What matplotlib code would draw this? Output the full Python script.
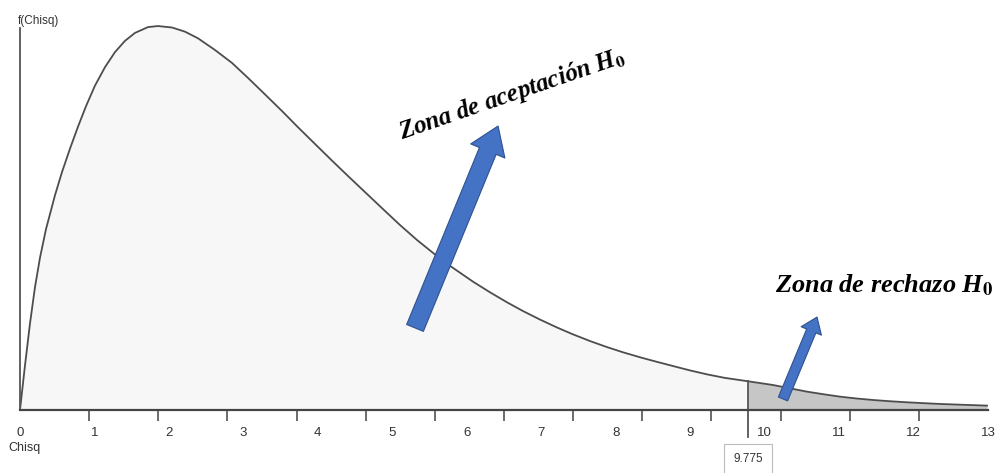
import matplotlib
matplotlib.use("Agg")
from matplotlib import pyplot as plt
import numpy as np

# valores (chi-cuadrado)
chisq = [0.0, 0.067, 0.134, 0.201, 0.269, 0.349, 0.470, 0.564, 0.672, 0.779,
         0.886, 1.007, 1.142, 1.276, 1.410, 1.544, 1.719, 1.853, 2.041, 2.216,
         2.391, 2.619, 2.847, 3.062, 3.290, 3.519, 3.734, 3.962, 4.190, 4.432,
         4.660, 4.888, 5.103, 5.332, 5.547, 5.775, 6.084, 6.312, 6.540, 6.755,
         6.984, 7.212, 7.427, 7.655, 7.883, 8.098, 8.327, 8.555, 8.770, 8.998,
         9.227, 9.468, 9.775, 10.113, 10.341, 10.570, 10.784, 11.013, 11.241, 11.456,
         11.684, 11.912, 12.127, 12.356, 12.664, 12.987]
dens = [0.0, 0.0214, 0.0415, 0.0589, 0.0732, 0.0868, 0.1031, 0.1142, 0.1255, 0.1360,
        0.1458, 0.1557, 0.1646, 0.1718, 0.1772, 0.1810, 0.1838, 0.1843, 0.1836, 0.1816,
        0.1784, 0.1728, 0.1666, 0.1594, 0.1515, 0.1435, 0.1357, 0.1277, 0.1197, 0.1114,
        0.1037, 0.0960, 0.0888, 0.0816, 0.0754, 0.0692, 0.0616, 0.0565, 0.0517, 0.0475,
        0.0434, 0.0396, 0.0363, 0.0331, 0.0302, 0.0277, 0.0253, 0.0231, 0.0211, 0.0190,
        0.0171, 0.0154, 0.0138, 0.0120, 0.0104, 0.0088, 0.0076, 0.0064, 0.0055, 0.0048,
        0.0042, 0.0037, 0.0033, 0.0029, 0.0025, 0.0021]
critico = 9.775
etiquetas_x = list(range(0, 14))

x = np.array(chisq)
y = np.array(dens)

plt.rcParams['font.family'] = ['Liberation Sans', 'DejaVu Sans']
plt.rcParams['mathtext.fontset'] = 'stix'

fig = plt.figure(figsize=(9.96, 4.73), dpi=100)
ax = fig.add_axes([20/996, 63/473, 968/996, 385/473])
ax.set_xlim(0, 13)
ax.set_ylim(0, 385*0.00048)

acep = x <= critico
rech = x >= critico
ax.fill_between(x[acep], 0, y[acep], color='#f7f7f7', lw=0)
ax.fill_between(x[rech], 0, y[rech], color='#c6c6c6', lw=0)
ax.plot(x, y, color='#4d4d4d', lw=1.3, solid_joinstyle='round')
ax.plot([critico, critico], [y[chisq.index(critico)], -0.013], color='#555555', lw=1.3, clip_on=False)

for s in ['top', 'right']:
    ax.spines[s].set_visible(False)
ax.spines['left'].set_bounds(0, 382*0.00048)
ax.spines['left'].set_color('#555555')
ax.spines['left'].set_linewidth(1.3)
ax.spines['bottom'].set_color('#444444')
ax.spines['bottom'].set_linewidth(1.6)

ax.set_yticks([])
ax.set_xticks(etiquetas_x)
ax.set_xticklabels([str(v) for v in etiquetas_x])
ax.tick_params(axis='x', which='major', length=0, pad=12, labelsize=9.5, labelcolor='#333333')
ax.set_xticks([13*k/14 for k in range(15)], minor=True)
ax.tick_params(axis='x', which='minor', length=8, width=1.1, color='#444444', direction='out')

fig.text(18/996, 1-21/473, 'f(Chisq)', fontsize=8.5, color='#333333', va='center', ha='left')
fig.text(8/996, 1-448/473, 'Chisq', fontsize=9, color='#333333', va='center', ha='left')

ax.text(critico, -0.0235, '9.775', fontsize=8.5, color='#333333', ha='center', va='center',
        clip_on=False,
        bbox=dict(boxstyle='square,pad=0.75', fc='white', ec='#bbbbbb', lw=0.8))

# flechas
ax.annotate('', xy=(6.42, 0.1363), xytext=(5.305, 0.0394),
            arrowprops=dict(arrowstyle='simple,head_width=2.66,head_length=1.94,tail_width=1.3',
                            fc='#4472c4', ec='#2f528f', lw=0.8, shrinkA=0, shrinkB=0,
                            mutation_scale=10))
ax.annotate('', xy=(10.704, 0.0446), xytext=(10.247, 0.0053),
            arrowprops=dict(arrowstyle='simple,head_width=1.58,head_length=1.08,tail_width=0.72',
                            fc='#4472c4', ec='#2f528f', lw=0.8, shrinkA=0, shrinkB=0,
                            mutation_scale=10))

ax.text(6.61, 0.1512, r'Zona de aceptación H$_{\mathbf{0}}$', family='Liberation Serif',
        fontsize=18, fontweight='bold', style='italic', rotation=19,
        ha='center', va='center', rotation_mode='anchor')
ax.text(10.14, 0.06, r'Zona de rechazo H$_{\mathbf{0}}$', family='Liberation Serif',
        fontsize=19, fontweight='bold', style='italic', ha='left', va='center', clip_on=False)

fig.savefig('out.png', dpi=100)
